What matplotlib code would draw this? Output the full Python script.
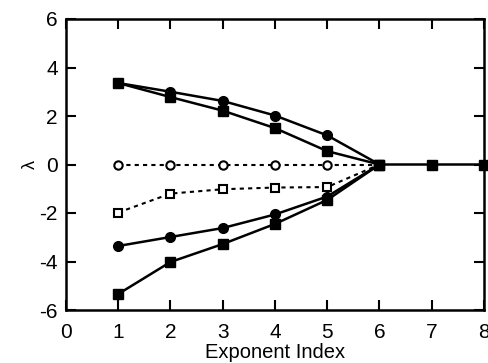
import matplotlib
matplotlib.use("Agg")
import matplotlib.pyplot as plt

plt.rcParams['font.family'] = ['Liberation Sans', 'DejaVu Sans']
plt.rcParams['axes.unicode_minus'] = False

# Lyapunov spectra
x_full = [1, 2, 3, 4, 5, 6, 7, 8]
sq_upper = [3.36, 2.78, 2.22, 1.50, 0.55, 0.0, 0.0, 0.0]
x_half = [1, 2, 3, 4, 5, 6]
circ_upper = [3.36, 3.00, 2.62, 2.02, 1.20, 0.0]
circ_lower = [-3.36, -2.99, -2.62, -2.06, -1.32, 0.0]
sq_lower = [-5.34, -4.02, -3.28, -2.45, -1.46, 0.0]
open_circ = [0.0, 0.0, 0.0, 0.0, 0.0, 0.0]
open_sq = [-1.98, -1.20, -1.02, -0.95, -0.93, 0.0]

fig = plt.figure(figsize=(4.89, 3.63), dpi=100)
ax = fig.add_axes([66/489, 1 - 310/363, (484-66)/489, (310-19)/363])

lw = 1.8
ax.plot(x_half, open_circ, color='black', lw=1.5, ls=(0, (2, 2)), marker='o',
        ms=6, mfc='white', mec='black', mew=1.5)
ax.plot(x_half, open_sq, color='black', lw=1.5, ls=(0, (2, 2)), marker='s',
        ms=6, mfc='white', mec='black', mew=1.5)
ax.plot(x_half, circ_upper, color='black', lw=lw, marker='o', ms=7)
ax.plot(x_half, circ_lower, color='black', lw=lw, marker='o', ms=7)
ax.plot(x_full, sq_upper, color='black', lw=lw, marker='s', ms=7, clip_on=False)
ax.plot(x_half, sq_lower, color='black', lw=lw, marker='s', ms=7)

ax.set_xlim(0, 8)
ax.set_ylim(-6, 6)
ax.set_xticks(range(0, 9))
ax.set_yticks(range(-6, 7, 2))
ax.tick_params(direction='in', top=True, right=True, length=7, width=1.5,
               labelsize=15)
ax.tick_params(axis='x', pad=9)
ax.tick_params(axis='y', pad=6)
for s in ax.spines.values():
    s.set_linewidth(1.8)
ax.set_xlabel('Exponent Index', fontsize=14.5, labelpad=1)
ax.set_ylabel('λ', fontsize=13, rotation=90, labelpad=0)

fig.savefig('out.png', dpi=100)
